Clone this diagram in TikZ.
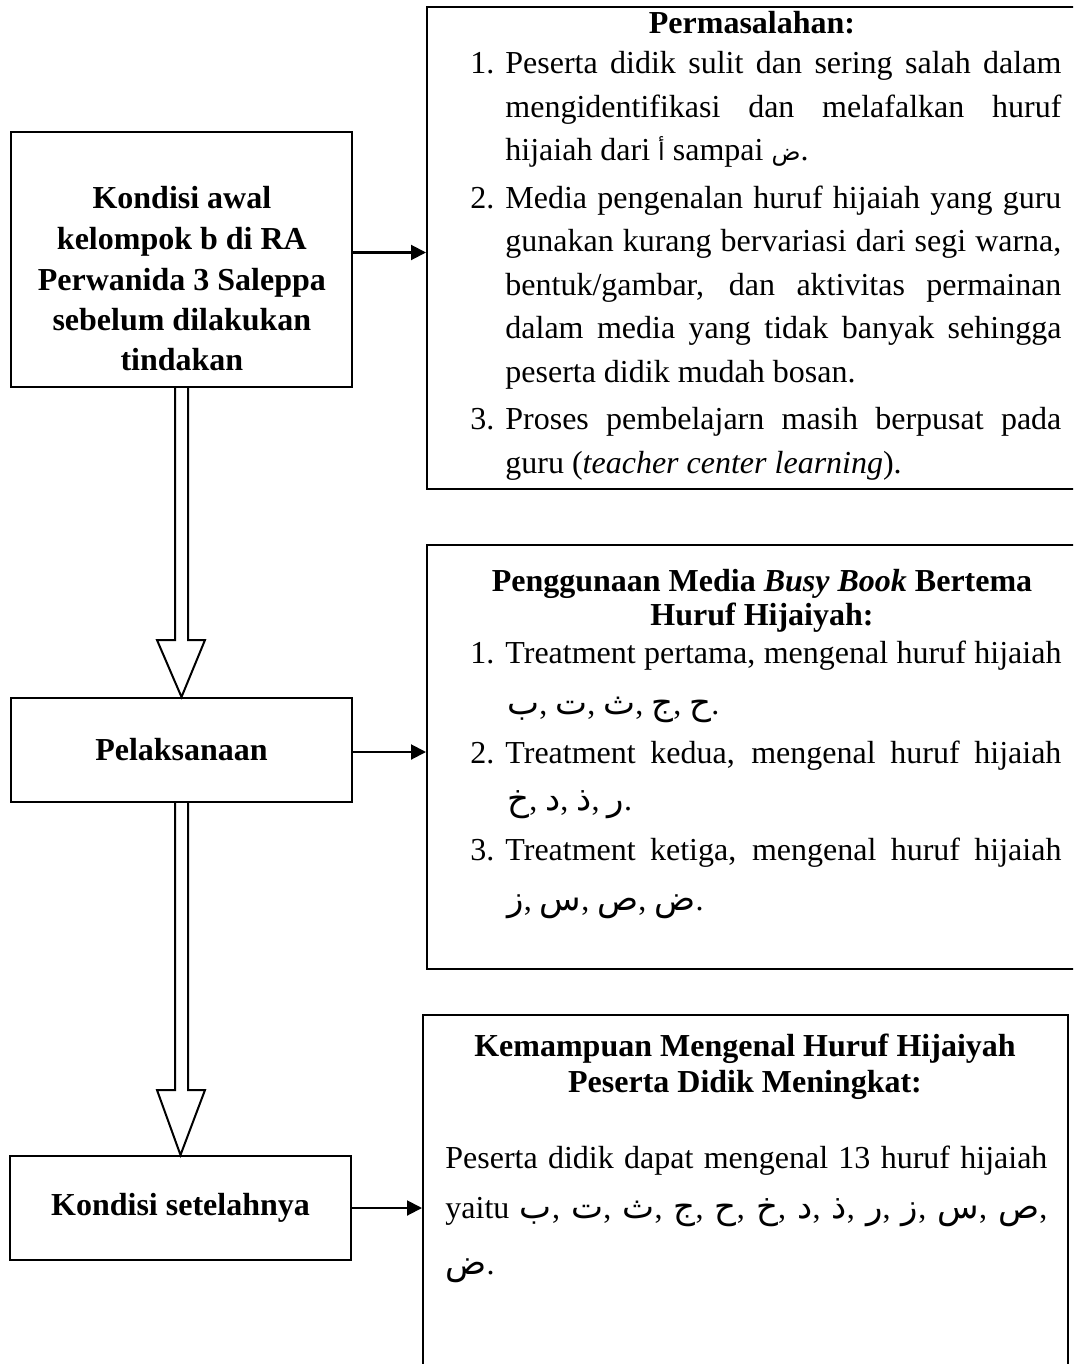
\documentclass[tikz,border=0pt]{standalone}
\usepackage{fontspec}
\setmainfont{Liberation Serif}
\newfontfamily\arfont[Script=Arabic]{DejaVu Sans}
\usetikzlibrary{arrows.meta,calc}
\newdimen\px \px=0.5pt
\newcommand\A[1]{{\arfont\fontsize{12pt}{12pt}\selectfont #1}}
\newcommand\Ab[1]{{\arfont\fontsize{17pt}{17pt}\selectfont #1}}
\newcommand\JL[2]{\hbox{\hbox to 35\px{#1\hfil}\hbox to 556\px{#2}}}
\newcommand\RL[2]{\hbox{\hbox to 35\px{#1\hfil}#2}}
\newcommand\CL[2]{\hbox to #1\px{\hfil#2\hfil}}
\begin{document}
\begin{tikzpicture}[x=0.5pt,y=-0.5pt,
  every node/.style={font=\fontsize{16pt}{20pt}\selectfont},
  box/.style={draw, line width=1pt, inner sep=0pt},
  lbox/.style={box, font=\fontsize{16pt}{20pt}\selectfont\bfseries},
  body/.style={inner sep=0pt, anchor=base west},
  ttl/.style={inner sep=0pt, anchor=base, font=\fontsize{16pt}{20pt}\selectfont\bfseries},
  harrow/.style={line width=1pt, -{Triangle[length=7.5pt,width=7.5pt]}},
  barrow/.style={line width=1pt, line join=miter}]
\useasboundingbox (0,0) rectangle (1073,1364);
\clip (0,0) rectangle (1073,1364);
\fill[white] (0,0) rectangle (1073,1364);

% left boxes
\node[lbox, minimum width=170.5pt, minimum height=127.5pt] (A) at (181.5,259.5) {};
\node[lbox, minimum width=170.5pt, minimum height=52pt] (B) at (181.5,750) {Pelaksanaan};
\node[lbox, minimum width=170.5pt, minimum height=52pt] (C) at (180.5,1208) {Kondisi setelahnya};

% right boxes
\node[box, minimum width=336.5pt, minimum height=240.75pt] (P) at (763.5,247.75) {};
\node[box, minimum width=336.5pt, minimum height=212pt] (M) at (763.5,757) {};
\node[box, minimum width=322.5pt, minimum height=192.5pt] (K) at (745.5,1207.5) {};

% left box A text
\node[body, font=\fontsize{16pt}{20pt}\selectfont\bfseries] (Atxt) at (11,209) {\vtop{\baselineskip=40.5\px
  \CL{341}{Kondisi awal}
  \CL{341}{kelompok b di RA}
  \CL{341}{Perwanida 3 Saleppa}
  \CL{341}{sebelum dilakukan}
  \CL{341}{tindakan}}};

% box 1 text
\node[ttl] (Pt) at (752,34) {Permasalahan:};
\node[body] (Ptxt) at (470,74) {\vtop{\baselineskip=43.5\px
  \JL{1.}{Peserta didik sulit dan sering salah dalam}
  \JL{}{mengidentifikasi dan melafalkan huruf}
  \RL{}{hijaiah dari \A{أ} sampai \A{ض}.}
  \vskip4\px
  \JL{2.}{Media pengenalan huruf hijaiah yang guru}
  \JL{}{gunakan kurang bervariasi dari segi warna,}
  \JL{}{bentuk/gambar, dan aktivitas permainan}
  \JL{}{dalam media yang tidak banyak sehingga}
  \RL{}{peserta didik mudah bosan.}
  \vskip4\px
  \JL{3.}{Proses pembelajarn masih berpusat pada}
  \RL{}{guru (\textit{teacher center learning}).}}};

% box 2 text
\node[ttl] (Mt1) at (762,591) {Penggunaan Media \textit{Busy Book} Bertema};
\node[ttl] (Mt2) at (762,625) {Huruf Hijaiyah:};
\node[body] (Mtxt) at (470,663) {\vtop{\lineskiplimit=-\maxdimen \lineskip=0pt
  \JL{1.}{Treatment pertama, mengenal huruf hijaiah}
  \baselineskip=51\px
  \RL{}{\hskip2\px\Ab{ب}, \Ab{ت}, \Ab{ث}, \Ab{ج}, \Ab{ح}.}
  \baselineskip=49\px
  \JL{2.}{Treatment kedua, mengenal huruf hijaiah}
  \baselineskip=47\px
  \RL{}{\hskip2\px\Ab{خ}, \Ab{د}, \Ab{ذ}, \Ab{ر}.}
  \baselineskip=50\px
  \JL{3.}{Treatment ketiga, mengenal huruf hijaiah}
  \baselineskip=50\px
  \RL{}{\hskip2\px\Ab{ز}, \Ab{س}, \Ab{ص}, \Ab{ض}.}}};

% box 3 text
\node[ttl] (Kt1) at (745,1056) {Kemampuan Mengenal Huruf Hijaiyah};
\node[ttl] (Kt2) at (745,1092) {Peserta Didik Meningkat:};
\node[body] (Ktxt) at (445,1168) {\vtop{\lineskiplimit=-\maxdimen \lineskip=0pt
  \hbox to 602\px{Peserta didik dapat mengenal 13 huruf hijaiah}
  \baselineskip=50\px
  \hbox to 602\px{yaitu \Ab{ب}, \Ab{ت}, \Ab{ث}, \Ab{ج}, \Ab{ح}, \Ab{خ}, \Ab{د}, \Ab{ذ}, \Ab{ر}, \Ab{ز}, \Ab{س}, \Ab{ص},}
  \baselineskip=56\px
  \hbox{\Ab{ض}.}}};

% horizontal arrows
\coordinate (a1) at ($(A.east)+(0,-7)$);
\coordinate (a2) at ($(B.east)+(0,2)$);
\draw[harrow] (a1) -- (a1 -| P.west);
\draw[harrow] (a2) -- (a2 -| M.west);
\draw[harrow] (C.east) -- (C.east -| K.west);

% block arrows
\draw[barrow] ($(A.south)+(-6.5,0)$) -- ($(B.north)+(-6.5,-57)$) -- ($(B.north)+(-24.5,-57)$)
  -- (B.north) -- ($(B.north)+(23.5,-57)$) -- ($(B.north)+(6.5,-57)$) -- ($(A.south)+(6.5,0)$);
\draw[barrow] ($(B.south)+(-6.5,0)$) -- ($(C.north)+(-5.5,-65)$) -- ($(C.north)+(-23.5,-65)$)
  -- (C.north) -- ($(C.north)+(24.5,-65)$) -- ($(C.north)+(7.5,-65)$) -- ($(B.south)+(6.5,0)$);
\end{tikzpicture}
\end{document}
